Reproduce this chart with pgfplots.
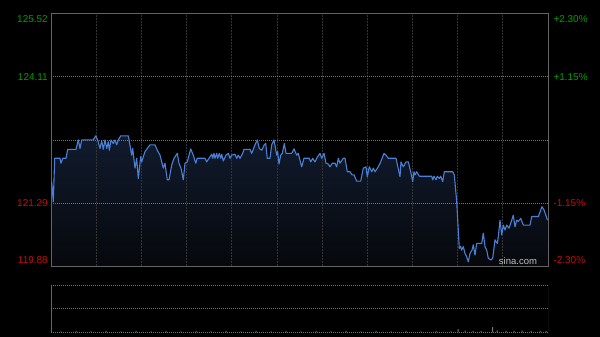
\documentclass[border=0pt]{standalone}
\usepackage{pgfplots}
\pgfplotsset{compat=1.18}
\usepgfplotslibrary{fillbetween}
\usepackage{pgfplotstable}
\usepackage{fontspec}
\setmainfont{Liberation Sans}
\definecolor{upg}{RGB}{0,158,0}
\definecolor{dnr}{RGB}{204,10,10}
\definecolor{lineb}{RGB}{74,128,214}
\definecolor{framec}{RGB}{100,100,100}
\definecolor{vgrid}{RGB}{52,52,52}
\definecolor{hgrid}{RGB}{115,115,115}
\definecolor{filltop}{RGB}{17,27,46}
\definecolor{fillbot}{RGB}{6,8,12}
\definecolor{volc}{RGB}{120,120,120}
\definecolor{wmark}{RGB}{190,190,190}

\pgfplotstableread{
x y
0.7 121.77
2.3 121.32
3.7 122.29
9 122.29
10 122.18
11.7 122.29
15 122.29
16.7 122.49
25 122.49
27.3 122.70
29 122.51
30.7 122.70
42.3 122.70
44.7 122.79
46.7 122.70
49 122.51
50.7 122.68
52.3 122.49
54 122.70
55.7 122.51
57.3 122.66
58.3 122.47
60 122.70
62.3 122.62
64 122.70
65.7 122.59
67.3 122.70
69.7 122.79
77.3 122.79
80.7 122.36
81.7 122.51
84 122.07
85.7 122.29
87.3 121.84
89.7 122.33
90.7 122.21
94 122.44
96.3 122.51
99 122.59
104 122.59
106.3 122.47
109 122.36
112.3 122.07
114 122.18
116.3 121.81
118 121.81
120.7 122.14
123 122.29
126.3 122.40
128 122.18
130 122.07
132.3 121.81
134 122.18
136.3 122.21
139.7 122.50
142.3 122.36
144.7 122.18
146.3 122.29
154 122.29
155.7 122.21
158 122.29
160.7 122.38
161.7 122.29
163 122.40
164 122.29
165.7 122.40
166.7 122.29
168.3 122.40
169.7 122.29
170.7 122.38
172.3 122.23
175 122.36
177.3 122.40
179 122.29
180.7 122.36
184 122.38
185.7 122.29
187.3 122.36
189 122.29
191.7 122.40
193 122.49
199 122.49
200.7 122.40
204 122.59
206.3 122.70
208.3 122.51
210.7 122.47
213.3 122.59
214.7 122.62
216.3 122.29
219 122.29
220.7 122.59
223 122.70
225.7 122.36
226.7 122.44
228 122.16
229.7 122.36
231.3 122.40
233.3 122.62
235 122.40
240.7 122.40
243 122.50
245.7 122.36
247.3 122.40
250.7 122.10
253 122.29
258.3 122.29
259.7 122.21
261.7 122.29
264 122.21
265.7 122.29
269 122.40
270.7 122.29
273 122.40
275 122.18
277.3 122.16
279 122.10
281.3 122.18
284 122.18
285.7 122.10
287.3 122.29
289 122.18
292.3 122.29
294 122.29
296.3 121.99
299 121.99
301 121.92
303 121.92
305.7 121.78
309.7 121.78
312.3 122.07
315 122.10
316.3 121.88
318.3 122.10
320.7 121.99
322.3 122.07
324 121.99
327.3 122.10
329.7 122.21
333 122.40
335 122.36
337.3 122.29
345 122.29
349 121.88
350 122.21
352.3 122.10
355 122.21
357.3 122.21
359.7 121.99
361.7 121.77
363 121.99
364 121.92
365.7 121.99
368.3 121.89
380.7 121.89
381.7 121.81
383 121.89
385 121.81
386.3 121.89
388.3 121.84
389.7 121.89
391.7 121.77
393.3 121.99
401.7 121.99
403.3 121.92
405.7 121.32
408.3 120.28
409.7 120.32
410.7 120.24
412.3 120.32
414 120.17
415.7 120.09
417.3 119.98
419 120.17
421 120.24
422.3 120.36
424 120.13
425.7 120.39
430.7 120.39
432.3 120.62
434 120.32
435.7 120.24
437.3 120.06
440 120.02
441.7 120.06
444 120.47
446.3 120.39
447.3 120.54
449 120.91
450.7 120.58
452.3 120.80
454 120.69
455.7 120.80
458 120.73
459.7 120.84
462.3 121.02
464 120.76
465.7 120.91
467.3 120.88
469.7 120.95
472.3 120.80
479 120.80
480.7 120.99
487.3 120.99
491 121.21
493 121.14
496.5 120.91
}\price

\pgfplotstableread{
x v
10 2
25 2.5
40 2
55 2.5
70 2
85 2.5
100 2
115 2.5
130 2
145 2.5
160 2
175 2.5
190 2
205 2.5
220 2
235 2.5
250 2
265 2.5
280 2
295 2.5
310 2
325 2.5
340 2
355 2.5
370 2
385 2.5
400 2
407 7
414 3.5
422 3
430 3
441.7 11
446 4
455 3
463 3
471 3.5
480 3
489 3
495 3
}\vol

\begin{document}
\begin{tikzpicture}[x=1pt,y=1pt]

\begin{axis}[
  at={(51pt,-13.5pt)}, anchor=north west,
  width=497pt, height=252.8pt, scale only axis,
  xmin=0, xmax=497, ymin=119.88, ymax=125.52,
  set layers, clip=false,
  axis line style={draw=framec, line width=0.9pt},
  xtick={45.18,90.36,135.55,180.73,225.91,271.09,316.27,361.45,406.64,451.82},
  ytick={121.29,124.11},
  extra y ticks={122.70},
  xticklabels={}, yticklabels={}, extra y tick labels={},
  major tick length=0pt,
  xmajorgrids, ymajorgrids,
  x grid style={draw=vgrid, dash pattern=on 2pt off 1pt, line width=0.8pt},
  y grid style={draw=hgrid, dash pattern=on 1pt off 1pt, line width=0.7pt},
  extra y tick style={grid style={draw=hgrid, dash pattern=on 3pt off 1.5pt on 1pt off 1.5pt, line width=0.7pt}},
]
\begin{pgfonlayer}{axis background}
\fill[black] (rel axis cs:-0.10262,1.05340) rectangle (rel axis cs:1.10463,-0.27967);
\end{pgfonlayer}
\addplot[name path=p, draw=lineb, line width=1.1pt, line join=round, no marks] table[x=x,y=y] {\price};
\path[name path=b] (axis cs:0,119.88) -- (axis cs:497,119.88);
\addplot[draw=none, top color=filltop, bottom color=fillbot] fill between[of=p and b, on layer=axis background];
\end{axis}

\begin{axis}[
  at={(51pt,-285.3pt)}, anchor=north west,
  width=497pt, height=47pt, scale only axis,
  xmin=0, xmax=497, ymin=0, ymax=100,
  axis line style={draw=none},
  xtick=\empty, ytick=\empty,
]
\addplot[ybar, bar width=1pt, fill=volc, draw=none] table[x=x,y=v] {\vol};
\draw[framec, line width=0.9pt] (rel axis cs:0,0) -- (rel axis cs:0,1);
\draw[framec, line width=0.9pt] (rel axis cs:1,0) -- (rel axis cs:1,1);
\draw[hgrid, dash pattern=on 1pt off 1pt, line width=0.7pt] (rel axis cs:0,1) -- (rel axis cs:1,1);
\draw[hgrid, dash pattern=on 1pt off 1pt, line width=0.7pt] (rel axis cs:0,0.5) -- (rel axis cs:1,0.5);
\draw[hgrid, dash pattern=on 1pt off 1pt, line width=0.7pt] (rel axis cs:0,0) -- (rel axis cs:1,0);
\end{axis}

\begin{scope}[font=\fontsize{10}{12}\selectfont, inner sep=0pt]
\node[anchor=east, text=upg] at (48,-19.2) {125.52};
\node[anchor=east, text=upg] at (48,-76.8) {124.11};
\node[anchor=east, text=dnr] at (48,-203.2) {121.29};
\node[anchor=east, text=dnr] at (48,-260.2) {119.88};
\node[anchor=west, text=upg] at (553.3,-19.2) {+2.30\%};
\node[anchor=west, text=upg] at (553.3,-76.8) {+1.15\%};
\node[anchor=west, text=dnr] at (553.3,-203.2) {-1.15\%};
\node[anchor=west, text=dnr] at (553.3,-260.2) {-2.30\%};
\node[text=wmark, font=\fontsize{9.5}{11}\selectfont] at (518,-261) {sina.com};
\end{scope}

\pgfresetboundingbox
\useasboundingbox (0,0) rectangle (600,-337);
\end{tikzpicture}
\end{document}
